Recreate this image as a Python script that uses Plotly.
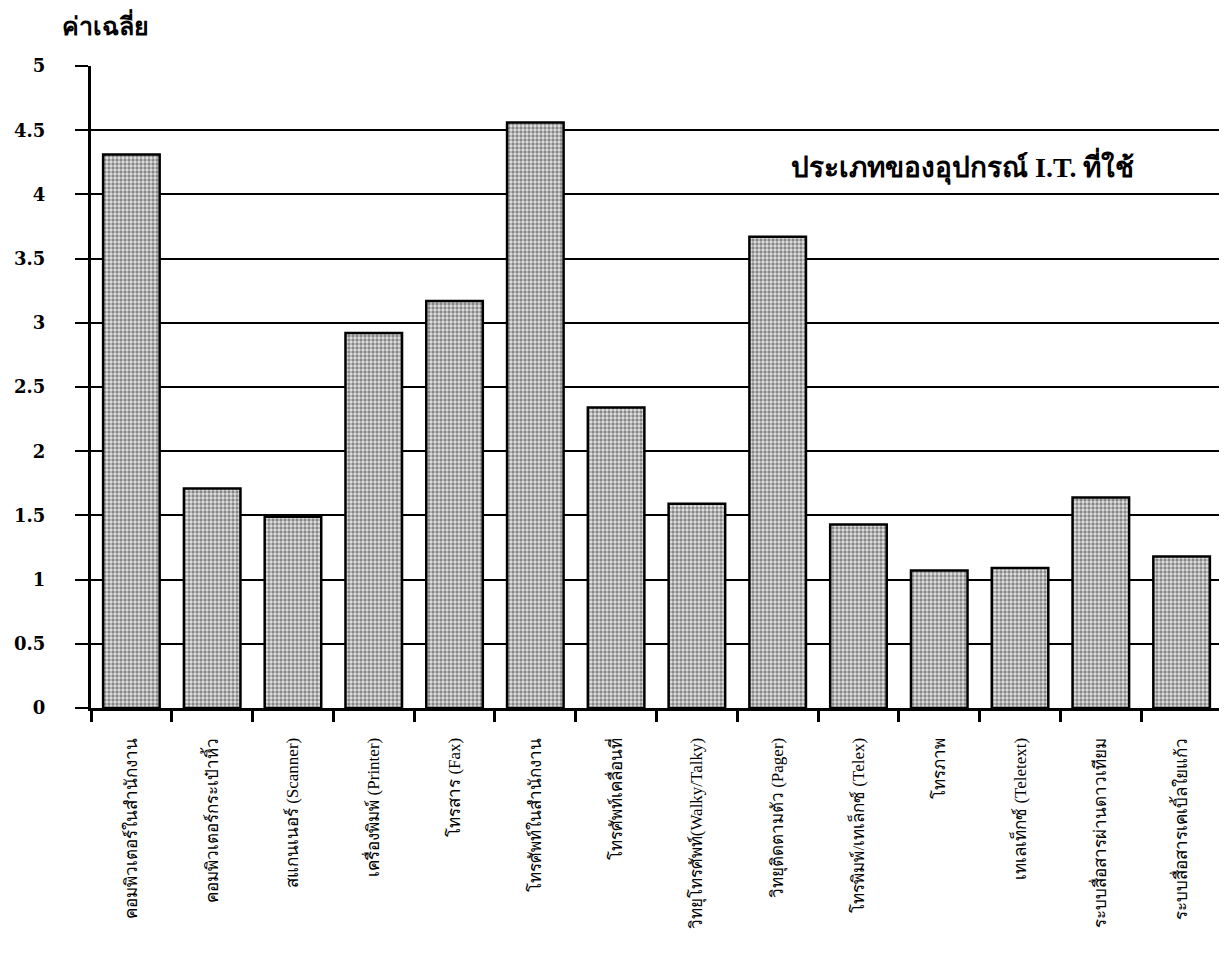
import plotly.graph_objects as go

categories = [
    "คอมพิวเตอร์ในสำนักงาน",
    "คอมพิวเตอร์กระเป๋าหิ้ว",
    "สแกนเนอร์ (Scanner)",
    "เครื่องพิมพ์ (Printer)",
    "โทรสาร (Fax)",
    "โทรศัพท์ในสำนักงาน",
    "โทรศัพท์เคลื่อนที่",
    "วิทยุโทรศัพท์(Walky/Talky)",
    "วิทยุติดตามตัว (Pager)",
    "โทรพิมพ์/เทเล็กซ์ (Telex)",
    "โทรภาพ",
    "เทเลเท็กซ์ (Teletext)",
    "ระบบสื่อสารผ่านดาวเทียม",
    "ระบบสื่อสารเคเบิ้ลใยแก้ว",
]
values = [4.31, 1.71, 1.49, 2.92, 3.17, 4.56, 2.34, 1.59, 3.67, 1.43, 1.07, 1.09, 1.64, 1.18]
y_ticks = [0, 0.5, 1, 1.5, 2, 2.5, 3, 3.5, 4, 4.5, 5]
y_tick_text = ["0", "0.5", "1", "1.5", "2", "2.5", "3", "3.5", "4", "4.5", "5"]

fig = go.Figure()
fig.add_trace(go.Bar(
    x=categories,
    y=values,
    width=0.7,
    marker=dict(
        color="#a0a0a0",
        line=dict(color="black", width=2.5),
        pattern=dict(shape=".", size=4, solidity=0.55, fgcolor="#2a2a2a", bgcolor="#e4e4e4"),
    ),
))

fig.update_layout(
    width=1227,
    height=954,
    margin=dict(l=83, r=13, t=58, b=254),
    plot_bgcolor="white",
    paper_bgcolor="white",
    showlegend=False,
    bargap=0.3,
    font=dict(family="Liberation Serif", color="black"),
)

fig.update_yaxes(
    range=[0, 5],
    tickvals=y_ticks,
    ticktext=y_tick_text,
    automargin=False,
    showgrid=True,
    gridcolor="black",
    gridwidth=2,
    showline=True,
    linecolor="black",
    linewidth=3,
    ticks="outside",
    ticklen=13,
    tickwidth=2,
    tickcolor="black",
    ticklabelstandoff=26,
    tickfont=dict(family="DejaVu Serif", size=18, color="black", weight="bold"),
    zeroline=False,
)

fig.update_xaxes(
    automargin=False,
    showline=True,
    linecolor="black",
    linewidth=3,
    ticks="outside",
    tickson="boundaries",
    ticklen=11,
    tickwidth=3,
    tickcolor="black",
    tickangle=-90,
    tickfont=dict(family="Liberation Serif", size=17, color="black"),
    range=[-0.5, 13.5],
    ticklabelstandoff=20,
)

fig.add_annotation(
    text="<b>ค่าเฉลี่ย</b>",
    xref="paper", yref="paper",
    x=0.0, y=1.0, xanchor="left", yanchor="bottom",
    xshift=-31, yshift=24,
    showarrow=False,
    font=dict(family="Liberation Serif", size=25, color="black"),
)
fig.add_annotation(
    text="<b>ประเภทของอุปกรณ์ I.T. ที่ใช้</b>",
    x=10.3, y=4.22, xref="x", yref="y",
    xanchor="center", yanchor="middle",
    showarrow=False,
    font=dict(family="Liberation Serif", size=28, color="black"),
)

fig.write_html("out.html")
